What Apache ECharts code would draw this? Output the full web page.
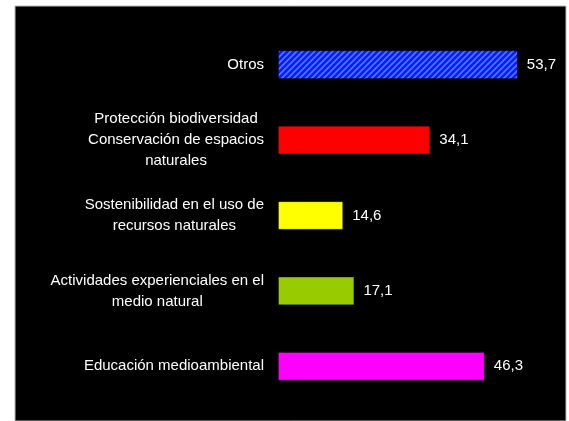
<!DOCTYPE html>
<html>
<head>
<meta charset="utf-8">
<script src="https://cdn.jsdelivr.net/npm/echarts@6/dist/echarts.min.js"></script>
<style>
  html, body { margin: 0; padding: 0; background: #fff; }
  #chart { width: 569px; height: 421px; }
</style>
</head>
<body>
<div id="chart"></div>
<script>
// categorias (de abajo hacia arriba, como en el original)
var categories = [
    'Educación medioambiental',
    'Actividades experienciales en el\nmedio natural',
    'Sostenibilidad en el uso de\nrecursos naturales',
    'Protección biodiversidad\nConservación de espacios\nnaturales',
    'Otros'
];
var values = [46.3, 17.1, 14.6, 34.1, 53.7];
var barColors = ['#ff00ff', '#99cc00', '#ffff00', '#ff0000', '#0000ff'];

// trama diagonal para "Otros"
function hatchPattern() {
    var c = document.createElement('canvas');
    c.width = 6;
    c.height = 6;
    var ctx = c.getContext('2d');
    ctx.fillStyle = '#0a1cff';
    ctx.fillRect(0, 0, 6, 6);
    ctx.strokeStyle = '#4d7aff';
    ctx.lineWidth = 1.6;
    ctx.beginPath();
    ctx.moveTo(0, 6); ctx.lineTo(6, 0);
    ctx.moveTo(-3, 3); ctx.lineTo(3, -3);
    ctx.moveTo(3, 9); ctx.lineTo(9, 3);
    ctx.stroke();
    return { image: c, repeat: 'repeat' };
}

var myChart = echarts.init(document.getElementById('chart'));

var seriesData = values.map(function (v, i) {
    return {
        value: v,
        itemStyle: {
            color: i === 4 ? hatchPattern() : barColors[i]
        }
    };
});

var option = {
    backgroundColor: '#fff',
    animation: false,
    graphic: [{
        type: 'rect',
        shape: { x: 15, y: 6, width: 551, height: 415 },
        style: { fill: '#000', stroke: '#bbb', lineWidth: 1 },
        z: -10
    }],
    grid: {
        left: 278,
        width: 268,
        top: 27,
        bottom: 17
    },
    xAxis: {
        type: 'value',
        min: 0,
        max: 60,
        show: false
    },
    yAxis: {
        type: 'category',
        data: categories,
        axisLine: { show: false },
        axisTick: { show: false },
        splitLine: { show: false },
        axisLabel: {
            margin: 14,
            align: 'right',
            color: '#fff',
            fontFamily: 'Liberation Sans, Arial, sans-serif',
            fontSize: 15,
            lineHeight: 21,
            formatter: function (val) {
                return val.split('\n').map(function (s) {
                    return '{c|' + s + '}';
                }).join('\n');
            },
            rich: {
                c: {
                    align: 'center',
                    color: '#fff',
                    fontFamily: 'Liberation Sans, Arial, sans-serif',
                    fontSize: 15,
                    lineHeight: 21
                }
            }
        }
    },
    series: [{
        type: 'bar',
        barWidth: '38%',
        data: seriesData,
        itemStyle: {
            borderColor: 'rgba(0,0,0,0.35)',
            borderWidth: 1
        },
        label: {
            show: true,
            position: 'right',
            distance: 9,
            color: '#fff',
            fontFamily: 'Liberation Sans, Arial, sans-serif',
            fontSize: 15,
            formatter: function (p) {
                return p.value.toFixed(1).replace('.', ',');
            }
        }
    }]
};

myChart.setOption(option);
</script>
</body>
</html>
